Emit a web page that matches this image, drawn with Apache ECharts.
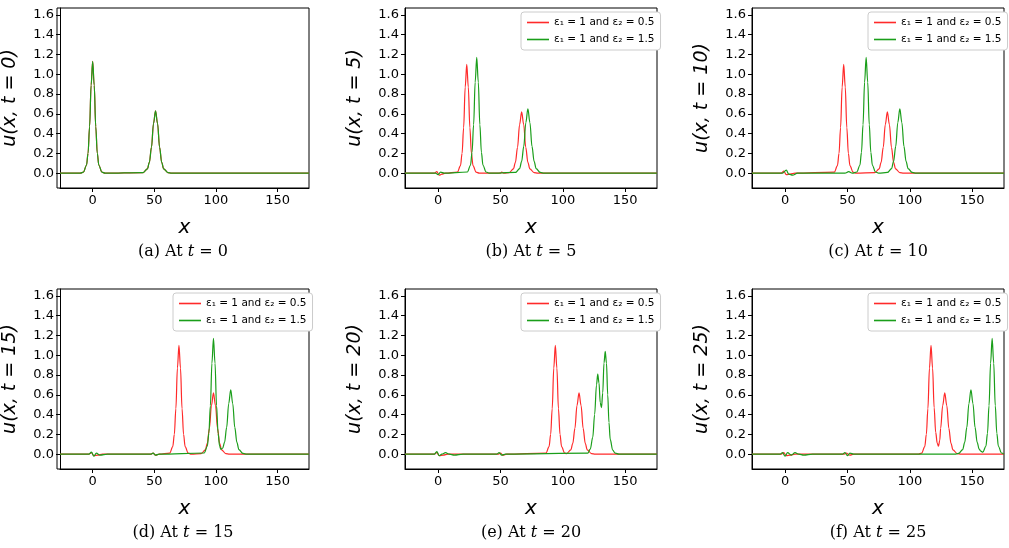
<!DOCTYPE html>
<html>
<head>
<meta charset="UTF-8">
<style>
  * { margin: 0; padding: 0; }
  html, body { width: 1009px; height: 548px; background: #fff; }
  #chart { width: 1009px; height: 548px; }
</style>
</head>
<body>
<div id="chart"></div>
<script src="https://cdn.jsdelivr.net/npm/echarts@6/dist/echarts.min.js"></script>
<script>
// captions and y labels
const times = [0, 5, 10, 15, 20, 25];
const letters = ['a', 'b', 'c', 'd', 'e', 'f'];
const xTicks = [0, 50, 100, 150];
const yTicks = [0, 0.2, 0.4, 0.6, 0.8, 1.0, 1.2, 1.4, 1.6];
const nameRed = 'ε₁ = 1 and ε₂ = 0.5';
const nameGreen = 'ε₁ = 1 and ε₂ = 1.5';

// u(x,t), [x, u]
const bothT0 = [[-26.5,0],[-10,0],[-7.5,.011],[-5,.08],[-3.75,.2],[-2.5,.47],[-1.25,.89],[0,1.13],[1.25,.89],[2.5,.47],[3.75,.2],[5,.08],[7.5,.011],[10,0],[41,.006],[44.4,.044],[46,.11],[47.7,.26],[49.35,.5],[51,.63],[52.65,.5],[54.3,.26],[56,.11],[57.6,.044],[61,.006],[64,0],[175.5,0]];
const redT5 = [[-26.5,0],[-3,0],[-1,0.015],[1,-0.02],[3,-0.01],[6,0],[15.5,.011],[18,.077],[19.25,.2],[20.5,.46],[21.75,.87],[23,1.10],[24.25,.87],[25.5,.46],[26.75,.2],[28,.077],[30.5,.011],[33,0],[50,0],[51,0.01],[53,0],[57,.006],[60.4,.043],[62,.11],[63.7,.26],[65.35,.49],[67,.62],[68.65,.49],[70.3,.26],[72,.11],[73.6,.043],[77,.006],[80,0],[175.5,0]];
const greenT5 = [[-26.5,0],[-2,0],[0,-0.015],[2,0.01],[5,0],[23.5,.012],[26,.08],[27.25,.21],[28.5,.49],[29.75,.92],[31,1.17],[32.25,.92],[33.5,.49],[34.75,.21],[36,.08],[38.5,.012],[41,0],[62,.007],[65.4,.046],[67,.12],[68.7,.27],[70.35,.51],[72,.65],[73.65,.51],[75.3,.27],[77,.12],[78.6,.046],[82,.007],[85,0],[175.5,0]];
const redT10 = [[-26.5,0],[-3,0],[-1,0.02],[1,-0.015],[4,-0.01],[8,0],[39.5,.011],[42,.077],[43.25,.2],[44.5,.46],[45.75,.87],[47,1.10],[48.25,.87],[49.5,.46],[50.75,.2],[52,.077],[54.5,.011],[57,0],[72,.006],[75.4,.043],[77,.11],[78.7,.26],[80.35,.49],[82,.62],[83.65,.49],[85.3,.26],[87,.11],[88.6,.043],[92,.006],[95,0],[175.5,0]];
const greenT10 = [[-26.5,0],[-2,0],[1,0.03],[3,-0.01],[6,-0.02],[10,0],[48,0],[51,0.015],[54,0],[57.5,.012],[60,.08],[61.25,.21],[62.5,.49],[63.75,.92],[65,1.17],[66.25,.92],[67.5,.49],[68.75,.21],[70,.08],[72.5,.012],[75,0],[82,.007],[85.4,.046],[87,.12],[88.7,.27],[90.35,.51],[92,.65],[93.65,.51],[95.3,.27],[97,.12],[98.6,.046],[102,.007],[105,0],[175.5,0]];
const redT15 = [[-26.5,0],[-3,0],[-1,0.015],[1,-0.015],[4,-0.01],[8,0],[47,0],[49,0.01],[51,-0.01],[54,0],[62.5,.011],[65,.077],[66.25,.2],[67.5,.46],[68.75,.87],[70,1.10],[71.25,.87],[72.5,.46],[73.75,.2],[75,.077],[77.5,.011],[80,0],[88,.006],[91.4,.043],[93,.11],[94.7,.26],[96.35,.49],[98,.62],[99.65,.49],[101.3,.26],[103,.11],[104.6,.043],[108,.006],[111,0],[175.5,0]];
const greenT15 = [[-26.5,0],[-3,0],[-1,0.02],[1,-0.02],[3,0.01],[6,-0.01],[12,0],[47,0],[49,0.01],[51,-0.01],[54,0],[90.5,.012],[93,.08],[94.25,.21],[95.5,.49],[96.75,.92],[98,1.17],[99.25,.92],[100.5,.49],[101.75,.21],[103,.08],[104,.05],[105.4,.06],[107,.12],[108.7,.27],[110.35,.51],[112,.65],[113.65,.51],[115.3,.27],[117,.12],[118.6,.046],[122,.007],[125,0],[175.5,0]];
const redT20 = [[-26.5,0],[-3,0],[-1,0.015],[1,-0.015],[4,-0.01],[8,0],[48,0],[50,0.01],[52,-0.01],[55,0],[86.5,.011],[89,.077],[90.25,.2],[91.5,.46],[92.75,.87],[94,1.10],[95.25,.87],[96.5,.46],[97.75,.2],[99,.077],[101.5,.011],[103,.006],[106.4,.043],[108,.11],[109.7,.26],[111.35,.49],[113,.62],[114.65,.49],[116.3,.26],[118,.11],[119.6,.043],[123,.006],[126,0],[175.5,0]];
const greenT20 = [[-26.5,0],[-3,0],[-1,0.025],[1,-0.015],[3,0],[6,0.015],[9,0],[13,-0.01],[20,0],[47,0],[49,0.015],[51,-0.01],[54,0],[120,0.01],[122,0.05],[124,0.17],[125.5,0.4],[127,0.7],[128,0.81],[129,0.72],[130,0.52],[131,0.47],[132,0.62],[133,0.92],[134,1.04],[135,0.92],[136,0.6],[137,0.32],[138,0.15],[140,0.04],[142,0.01],[145,0],[175.5,0]];
const redT25 = [[-26.5,0],[-3,0],[-1,0.015],[1,-0.015],[4,-0.01],[8,0],[47,0],[49,0.01],[52,-0.01],[55,0],[107,0],[109.5,.011],[112,.077],[113.25,.2],[114.5,.46],[115.75,.87],[117,1.10],[118.25,.87],[119.5,.47],[120.75,.22],[122,.11],[123,.08],[124,.14],[124.7,.26],[126.35,.49],[128,.62],[129.65,.49],[131.3,.26],[133,.11],[134.6,.043],[138,.006],[141,0],[175.5,0]];
const greenT25 = [[-26.5,0],[-4,0],[-2,0.015],[0,-0.02],[2,0.015],[5,-0.01],[8,0.015],[11,0],[15,-0.01],[22,0],[46,0],[48,0.015],[50,-0.015],[52,0.01],[55,0],[136,0],[139,.007],[142.4,.046],[144,.12],[145.7,.27],[147.35,.51],[149,.65],[150.65,.51],[152.3,.27],[154,.12],[155.6,.05],[157,.03],[158.5,.02],[161,.08],[162.25,.21],[163.5,.49],[164.75,.92],[166,1.17],[167.25,.92],[168.5,.49],[169.75,.21],[171,.08],[173.5,.012],[175.5,0]];

const redData = [bothT0, redT5, redT10, redT15, redT20, redT25];
const greenData = [bothT0, greenT5, greenT10, greenT15, greenT20, greenT25];

const RED = '#ff2a2a', GREEN = '#1a9e1a';
const lefts = [57, 405, 752], tops = [8, 289];
const W = 252, H = 180;

const chart = echarts.init(document.getElementById('chart'));
const grid = [], xAxis = [], yAxis = [], series = [], legend = [], graphic = [];

for (let i = 0; i < 6; i++) {
  const L = lefts[i % 3], T = tops[Math.floor(i / 3)];
  grid.push({ left: L, top: T, width: W, height: H });
  xAxis.push({
    gridIndex: i, type: 'value', min: -26.5, max: 175.5,
    name: 'x', nameLocation: 'middle', nameGap: 30,
    nameTextStyle: { fontFamily: 'DejaVu Sans', fontStyle: 'italic', fontSize: 20, color: '#000' },
    splitLine: { show: false },
    axisLine: { onZero: false, lineStyle: { color: '#000', width: 1 } },
    axisTick: { show: true, length: 4, lineStyle: { color: '#000' }, customValues: xTicks },
    axisLabel: { customValues: xTicks, color: '#000', fontFamily: 'DejaVu Sans', fontSize: 13, margin: 6 }
  });
  yAxis.push({
    gridIndex: i, type: 'value', min: -0.15, max: 1.67,
    name: 'u(x, t = ' + times[i] + ')', nameLocation: 'middle', nameGap: 40, nameRotate: 90,
    nameTextStyle: { fontFamily: 'DejaVu Sans', fontStyle: 'italic', fontSize: 19, color: '#000' },
    splitLine: { show: false },
    axisLine: { show: true, onZero: false, lineStyle: { color: '#000', width: 1 } },
    axisTick: { show: true, length: 4, lineStyle: { color: '#000' }, customValues: yTicks },
    axisLabel: { customValues: yTicks, color: '#000', fontFamily: 'DejaVu Sans', fontSize: 13, margin: 6,
      formatter: v => v.toFixed(1) }
  });
  // top/right frame
  graphic.push({ type: 'rect', shape: { x: L, y: T, width: W, height: H }, silent: true,
    style: { fill: 'none', stroke: '#000', lineWidth: 1 } });
  graphic.push({ type: 'text', x: L + W / 2, y: T + 244, style: {
    text: '(' + letters[i] + ') At {i|t} = ' + times[i], align: 'center', verticalAlign: 'middle',
    fontFamily: 'DejaVu Serif', fontSize: 16, fill: '#000',
    rich: { i: { fontFamily: 'DejaVu Serif', fontStyle: 'italic', fontSize: 16, fill: '#000' } } } });
  const common = { type: 'line', xAxisIndex: i, yAxisIndex: i, symbol: 'none',
    smooth: 0.35, smoothMonotone: 'x', animation: false };
  series.push(Object.assign({}, common, { name: nameRed, data: redData[i], lineStyle: { color: RED, width: 1.2 }, itemStyle: { color: RED } }));
  series.push(Object.assign({}, common, { name: nameGreen, data: greenData[i], lineStyle: { color: GREEN, width: 1.2 }, itemStyle: { color: GREEN } }));
  if (i > 0) {
    legend.push({
      data: [nameRed, nameGreen], orient: 'vertical', left: L + 116, top: T + 4,
      icon: 'rect', itemWidth: 22, itemHeight: 1.6, itemGap: 6, padding: [5, 6],
      borderColor: '#ccc', borderWidth: 1, borderRadius: 3, backgroundColor: '#fff',
      selectedMode: false,
      textStyle: { fontFamily: 'DejaVu Sans', fontSize: 10.5, color: '#000' }
    });
  }
}

chart.setOption({ animation: false, grid, xAxis, yAxis, series, legend, graphic });
</script>
</body>
</html>
